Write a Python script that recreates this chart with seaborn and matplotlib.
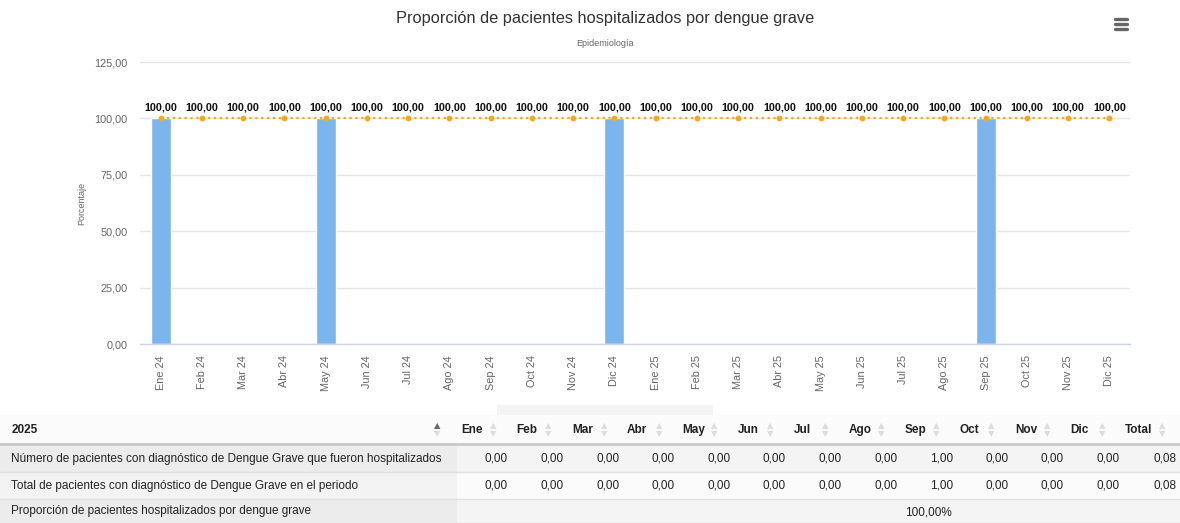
import matplotlib
matplotlib.use("Agg")
import matplotlib.pyplot as plt
import seaborn as sns
import pandas as pd
import numpy as np

# ---------------- data ----------------
meses = ["Ene 24", "Feb 24", "Mar 24", "Abr 24", "May 24", "Jun 24", "Jul 24", "Ago 24",
         "Sep 24", "Oct 24", "Nov 24", "Dic 24", "Ene 25", "Feb 25", "Mar 25", "Abr 25",
         "May 25", "Jun 25", "Jul 25", "Ago 25", "Sep 25", "Oct 25", "Nov 25", "Dic 25"]
medido = [100, 0, 0, 0, 100, 0, 0, 0, 0, 0, 0, 100,
          0, 0, 0, 0, 0, 0, 0, 0, 100, 0, 0, 0]
meta = [100] * 24
y_ticks = [0, 25, 50, 75, 100, 125]

anio_tabla = "2025"
cols_tabla = ["Ene", "Feb", "Mar", "Abr", "May", "Jun", "Jul", "Ago", "Sep", "Oct", "Nov", "Dic", "Total"]
fila_nombres = ["Número de pacientes con diagnóstico de Dengue Grave que fueron hospitalizados",
                "Total de pacientes con diagnóstico de Dengue Grave en el periodo",
                "Proporción de pacientes hospitalizados por dengue grave"]
fila_hosp = [0, 0, 0, 0, 0, 0, 0, 0, 1, 0, 0, 0, 0.08]
fila_total = [0, 0, 0, 0, 0, 0, 0, 0, 1, 0, 0, 0, 0.08]
proporcion_txt = "100,00%"

title = "Proporción de pacientes hospitalizados por dengue grave"
subtitle = "Epidemiología"
ylabel = "Porcentaje"

def fmt(v):
    return f"{v:.2f}".replace(".", ",")

# ---------------- style ----------------
sns.set_theme(style="white")
plt.rcParams["font.family"] = ["Liberation Sans", "DejaVu Sans"]

W, H = 1180, 523
fig = plt.figure(figsize=(W / 100, H / 100), dpi=100)
fig.patch.set_facecolor("white")

ax = fig.add_axes([140 / W, 1 - 344 / H, 990 / W, 282 / H])
df = pd.DataFrame({"mes": meses, "medido": medido, "meta": meta})

sns.barplot(data=df, x="mes", y="medido", color="#7cb5ec", width=0.48,
            saturation=1, ax=ax, zorder=2)
sns.pointplot(data=df, x="mes", y="meta", color="#f7a81b", linestyles=":",
              markers="o", markersize=3, linewidth=1.6, ax=ax, zorder=3)

for i, v in enumerate(meta):
    ax.annotate(fmt(v), (i, v), xytext=(0, 4.5), textcoords="offset points",
                ha="center", va="bottom", fontsize=7.8, fontweight="bold",
                color="#111111", zorder=5)

ax.set_ylim(0, 125)
ax.set_xlim(-0.5, len(meses) - 0.5)
ax.set_yticks(y_ticks)
ax.set_yticklabels([fmt(t) for t in y_ticks], fontsize=7.8, color="#666666")
ax.set_xticks(range(len(meses)))
ax.set_xticklabels(meses, rotation=90, fontsize=7.8, color="#666666")
ax.tick_params(axis="y", length=0, pad=9)
ax.tick_params(axis="x", length=0, pad=8)
ax.grid(axis="y", color="#e6e6e6", linewidth=1, zorder=0)
ax.set_axisbelow(True)
for s in ["top", "right", "left"]:
    ax.spines[s].set_visible(False)
ax.spines["bottom"].set_color("#ccd6eb")
ax.spines["bottom"].set_linewidth(1)
ax.set_xlabel("")
ax.set_ylabel(ylabel, fontsize=6.5, color="#666666", labelpad=6)

fig.text(605 / W, 1 - 19 / H, title, ha="center", va="center", fontsize=11.8,
         color="#333333")
fig.text(605 / W, 1 - 44 / H, subtitle, ha="center", va="center", fontsize=6.5,
         color="#666666")

# hamburger icon
for yy in (19, 24, 29):
    fig.add_artist(plt.Line2D([1115 / W, 1127 / W], [1 - yy / H, 1 - yy / H],
                              color="#666666", linewidth=2.4))

# ---------------- table ----------------
tb = fig.add_axes([0, 0, 1, 123 / H])
tb.set_xlim(0, W)
tb.set_ylim(523, 400)
tb.axis("off")

# legend remnant behind table
tb.add_patch(plt.Rectangle((497, 405), 216, 12, color="#f4f4f4", lw=0))

# header background
tb.add_patch(plt.Rectangle((0, 415), W, 29, color="#fbfbfb", lw=0))
tb.plot([0, W], [444, 444], color="#c8c8c8", lw=2)
rows_y = [(446, 472), (473, 499), (500, 523)]
row_bg = ["#f4f4f4", "#fbfbfb", "#f4f4f4"]
first_bg = ["#ececec", "#f3f3f3", "#ececec"]
for (y0, y1), bg, fb in zip(rows_y, row_bg, first_bg):
    tb.add_patch(plt.Rectangle((0, y0), W, y1 - y0, color=bg, lw=0))
    tb.add_patch(plt.Rectangle((0, y0), 457, y1 - y0, color=fb, lw=0))
    tb.plot([0, W], [y1 + 0.5, y1 + 0.5], color="#e0e0e0", lw=1)

fs = 8.5
tb.text(12, 430, anio_tabla, ha="left", va="center", fontsize=fs, fontweight="bold", color="#222222")
tb.text(437, 425.5, "▲", ha="center", va="center", fontsize=6, color="#666666", family="DejaVu Sans")
tb.text(437, 433.5, "▼", ha="center", va="center", fontsize=6, color="#dddddd", family="DejaVu Sans")

step = 55.4
for i, c in enumerate(cols_tabla):
    xl = 461 + i * step
    if c == "Total":
        xl = 1125
    tb.text(xl, 430, c, ha="left", va="center", fontsize=fs, fontweight="bold", color="#222222")
    xa = 493 + i * step if c != "Total" else 1162
    tb.text(xa, 425.5, "▲", ha="center", va="center", fontsize=6, color="#dddddd", family="DejaVu Sans")
    tb.text(xa, 433.5, "▼", ha="center", va="center", fontsize=6, color="#dddddd", family="DejaVu Sans")

for j, nombre in enumerate(fila_nombres):
    yc = (rows_y[j][0] + rows_y[j][1]) / 2
    tb.text(11, yc, nombre, ha="left", va="center", fontsize=fs, color="#222222")

for j, fila in enumerate([fila_hosp, fila_total]):
    yc = (rows_y[j][0] + rows_y[j][1]) / 2
    for i, v in enumerate(fila):
        xr = 508 + i * 55.6 if i < 12 else 1176
        tb.text(xr, yc, fmt(v), ha="right", va="center", fontsize=fs, color="#222222")

tb.text(928, 512.5, proporcion_txt, ha="center", va="center",
        fontsize=fs, color="#222222")

fig.savefig("out.png", dpi=100)
